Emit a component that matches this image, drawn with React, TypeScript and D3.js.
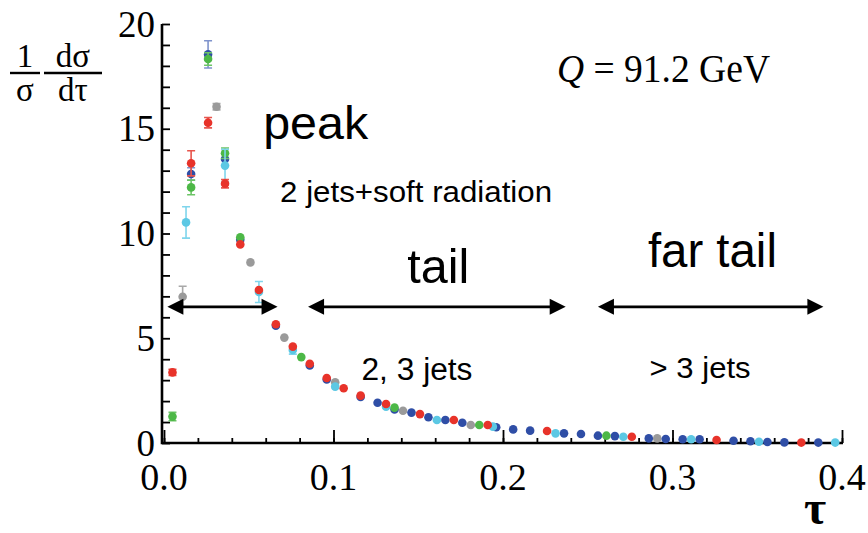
import * as d3 from 'd3';
import { useRef, useEffect } from 'react';

// RENDERING SETUP
const W = 868;
const H = 533;
const X_RANGE = [164, 842];
const Y_RANGE = [443, 24];
const SERIF = '"Liberation Serif", "Times New Roman", serif';
const SANS = '"Liberation Sans", Arial, sans-serif';

const COLOR = {
  BLUE: '#2f4ea6',
  BLUE_ERR: '#7f93cc',
  RED: '#e8332a',
  RED_ERR: '#e8554d',
  GREEN: '#4db847',
  GREEN_ERR: '#6cc466',
  GREY: '#9a9a9a',
  GREY_ERR: '#a8a8a8',
  CYAN: '#5cc8e4',
  CYAN_ERR: '#7fd5ec',
  AXIS: '#000',
};

// data: [tau, 1/sigma dsigma/dtau, error]
const GREY_PTS = [
  [0.011, 6.98, 0.5], [0.031, 16.05, 0.15], [0.051, 8.62, 0], [0.071, 5.03, 0],
  [0.101, 2.9, 0], [0.141, 1.54, 0], [0.181, 0.86, 0], [0.291, 0.22, 0],
];
const BLUE_PTS = [
  [0.016, 12.84, 0.3], [0.026, 18.55, 0.65], [0.036, 13.56, 0.3], [0.045, 9.7, 0],
  [0.066, 5.6, 0], [0.086, 3.7, 0], [0.096, 3.03, 0], [0.116, 2.2, 0],
  [0.126, 1.92, 0], [0.136, 1.6, 0], [0.146, 1.45, 0], [0.156, 1.23, 0],
  [0.166, 1.1, 0], [0.176, 0.97, 0], [0.196, 0.75, 0], [0.206, 0.65, 0],
  [0.216, 0.59, 0], [0.236, 0.46, 0], [0.246, 0.43, 0], [0.256, 0.35, 0],
  [0.266, 0.33, 0], [0.286, 0.22, 0], [0.296, 0.19, 0], [0.306, 0.18, 0],
  [0.316, 0.18, 0], [0.336, 0.11, 0], [0.346, 0.08, 0], [0.356, 0.05, 0],
  [0.366, 0.03, 0], [0.386, 0.02, 0],
];
const GREEN_PTS = [
  [0.005, 1.26, 0.2], [0.016, 12.2, 0.35], [0.026, 18.33, 0.3], [0.036, 13.83, 0.25],
  [0.045, 9.82, 0], [0.081, 4.1, 0], [0.136, 1.69, 0], [0.186, 0.86, 0],
  [0.261, 0.35, 0],
];
const CYAN_PTS = [
  [0.013, 10.53, 0.75], [0.036, 13.24, 0.78], [0.056, 7.21, 0.5], [0.076, 4.44, 0.2],
  [0.101, 2.69, 0], [0.131, 1.73, 0], [0.161, 1.1, 0], [0.194, 0.78, 0],
  [0.231, 0.46, 0], [0.271, 0.3, 0], [0.311, 0.18, 0], [0.351, 0.06, 0],
  [0.396, 0.02, 0],
];
const RED_PTS = [
  [0.005, 3.37, 0.15], [0.016, 13.35, 0.6], [0.026, 15.29, 0.25], [0.036, 12.38, 0.2],
  [0.045, 9.48, 0], [0.056, 7.3, 0], [0.066, 5.67, 0], [0.076, 4.6, 0],
  [0.086, 3.78, 0], [0.096, 3.1, 0], [0.106, 2.61, 0], [0.116, 2.26, 0],
  [0.131, 1.86, 0], [0.151, 1.38, 0], [0.171, 1.1, 0], [0.191, 0.86, 0],
  [0.226, 0.57, 0], [0.276, 0.3, 0], [0.326, 0.14, 0], [0.376, 0.02, 0],
];

const X_TICKS = [0, 0.1, 0.2, 0.3, 0.4];
const Y_TICKS = [0, 5, 10, 15, 20];

// arrows: [from tau, to tau] at height ARROW_Y
const ARROWS = [[0.002, 0.067], [0.085, 0.237], [0.256, 0.389]];
const ARROW_Y = 6.5;

// labels: text, tau (left), value (baseline), size, width
const LABELS = [
  ['peak', 0.0585, 14.5, 46, 105],
  ['2 jets+soft radiation', 0.0685, 11.5, 30, 272],
  ['tail', 0.1435, 7.64, 48, 62],
  ['far tail', 0.2855, 8.4, 48, 129],
  ['2, 3 jets', 0.1165, 3.0, 31, 111],
  ['> 3 jets', 0.2865, 3.1, 30, 101],
];

const SERIES = [
  { pts: GREY_PTS, fill: COLOR.GREY, err: COLOR.GREY_ERR },
  { pts: BLUE_PTS, fill: COLOR.BLUE, err: COLOR.BLUE_ERR },
  { pts: GREEN_PTS, fill: COLOR.GREEN, err: COLOR.GREEN_ERR },
  { pts: CYAN_PTS, fill: COLOR.CYAN, err: COLOR.CYAN_ERR },
  { pts: RED_PTS, fill: COLOR.RED, err: COLOR.RED_ERR },
];

const ThrustChart = () => {
  const gRef = useRef<SVGGElement>(null);

  useEffect(() => {
    const g = d3.select(gRef.current);
    g.selectAll('*').remove();

    const x = d3.scaleLinear().domain([0, 0.4]).range(X_RANGE);
    const y = d3.scaleLinear().domain([0, 20]).range(Y_RANGE);

    // axes, ticks pointing inward
    const xAxis = g.append('g').attr('transform', `translate(0, ${y(0)})`);
    xAxis
      .call(d3.axisTop(x).tickValues(d3.range(0, 0.4001, 0.02)).tickSize(5).tickFormat(() => ''))
      .call((s) => s.select('.domain').remove());
    xAxis
      .append('g')
      .call(d3.axisTop(x).tickValues(X_TICKS).tickSize(13).tickFormat(() => ''))
      .call((s) => s.select('.domain').remove());
    xAxis.selectAll('line').attr('stroke', COLOR.AXIS).attr('stroke-width', 1.8);

    const yAxis = g.append('g').attr('transform', `translate(${x(0) - 2}, 0)`);
    yAxis
      .call(d3.axisRight(y).tickValues(d3.range(0, 20.001, 1)).tickSize(8).tickFormat(() => ''))
      .call((s) => s.select('.domain').remove());
    yAxis.selectAll('line').attr('stroke', COLOR.AXIS).attr('stroke-width', 1.8);

    g.append('path')
      .attr('d', `M${x(0) - 2},${y(20)} V${y(0)} H${x(0.4) + 1}`)
      .attr('fill', 'none')
      .attr('stroke', COLOR.AXIS)
      .attr('stroke-width', 2.6);

    g.append('g')
      .selectAll('text')
      .data(X_TICKS)
      .join('text')
      .attr('x', (d) => x(d))
      .attr('y', 490)
      .attr('text-anchor', 'middle')
      .attr('font-family', SERIF)
      .attr('font-size', 38)
      .text((d) => d3.format('.1f')(d));

    g.append('g')
      .selectAll('text')
      .data(Y_TICKS)
      .join('text')
      .attr('x', 155)
      .attr('y', (d) => y(d))
      .attr('dy', '0.34em')
      .attr('text-anchor', 'end')
      .attr('font-family', SERIF)
      .attr('font-size', 37)
      .text((d) => d);

    // data points with error bars
    SERIES.forEach((s) => {
      const sg = g.append('g');
      const withErr = s.pts.filter((p) => p[2] > 0);
      sg.selectAll('path.err')
        .data(withErr)
        .join('path')
        .attr('class', 'err')
        .attr('d', (p) => {
          const cx = x(p[0]);
          const y1 = y(p[1] + p[2]);
          const y2 = y(p[1] - p[2]);
          return `M${cx},${y1} V${y2} M${cx - 4},${y1} H${cx + 4} M${cx - 4},${y2} H${cx + 4}`;
        })
        .attr('fill', 'none')
        .attr('stroke', s.err)
        .attr('stroke-width', 1.6);
      sg.selectAll('circle')
        .data(s.pts)
        .join('circle')
        .attr('cx', (p) => x(p[0]))
        .attr('cy', (p) => y(p[1]))
        .attr('r', 4.3)
        .attr('fill', s.fill);
    });

    // arrows
    const ag = g.append('g');
    ARROWS.forEach(([a, b]) => {
      const x1 = x(a);
      const x2 = x(b);
      const yy = y(ARROW_Y);
      ag.append('line')
        .attr('x1', x1 + 10)
        .attr('x2', x2 - 10)
        .attr('y1', yy)
        .attr('y2', yy)
        .attr('stroke', '#000')
        .attr('stroke-width', 2.6);
      ag.append('path')
        .attr('d', `M${x1},${yy} L${x1 + 16},${yy - 8} L${x1 + 16},${yy + 8} Z`)
        .attr('fill', '#000');
      ag.append('path')
        .attr('d', `M${x2},${yy} L${x2 - 16},${yy - 8} L${x2 - 16},${yy + 8} Z`)
        .attr('fill', '#000');
    });

    // region labels
    g.append('g')
      .selectAll('text')
      .data(LABELS)
      .join('text')
      .attr('x', (d) => x(d[1] as number))
      .attr('y', (d) => y(d[2] as number))
      .attr('font-family', SANS)
      .attr('font-size', (d) => d[3])
      .attr('textLength', (d) => d[4])
      .attr('lengthAdjust', 'spacingAndGlyphs')
      .text((d) => d[0]);
  }, []);

  return (
    <svg width={W} height={H} style={{ position: 'absolute', left: 0, top: 0 }}>
      <g ref={gRef} />
      {/* Q label */}
      <text x={557} y={82} fontFamily={SERIF} fontSize={40} textLength={213} lengthAdjust="spacingAndGlyphs">
        <tspan fontStyle="italic">Q</tspan>
        <tspan> = 91.2 GeV</tspan>
      </text>
      {/* y axis label: 1/sigma dsigma/dtau */}
      <g fontFamily={SERIF} fontSize={33} textAnchor="middle">
        <text x={25} y={67}>1</text>
        <line x1={10} x2={40} y1={73} y2={73} stroke="#000" strokeWidth={2.4} />
        <text x={25} y={101}>σ</text>
        <text x={73} y={67}>dσ</text>
        <line x1={44} x2={102} y1={73} y2={73} stroke="#000" strokeWidth={2.4} />
        <text x={73} y={101}>dτ</text>
      </g>
      {/* x axis label */}
      <text x={815} y={524} fontFamily={SERIF} fontSize={48} fontWeight="bold" textAnchor="middle">τ</text>
    </svg>
  );
};

export default function App() {
  return <ThrustChart />;
}
